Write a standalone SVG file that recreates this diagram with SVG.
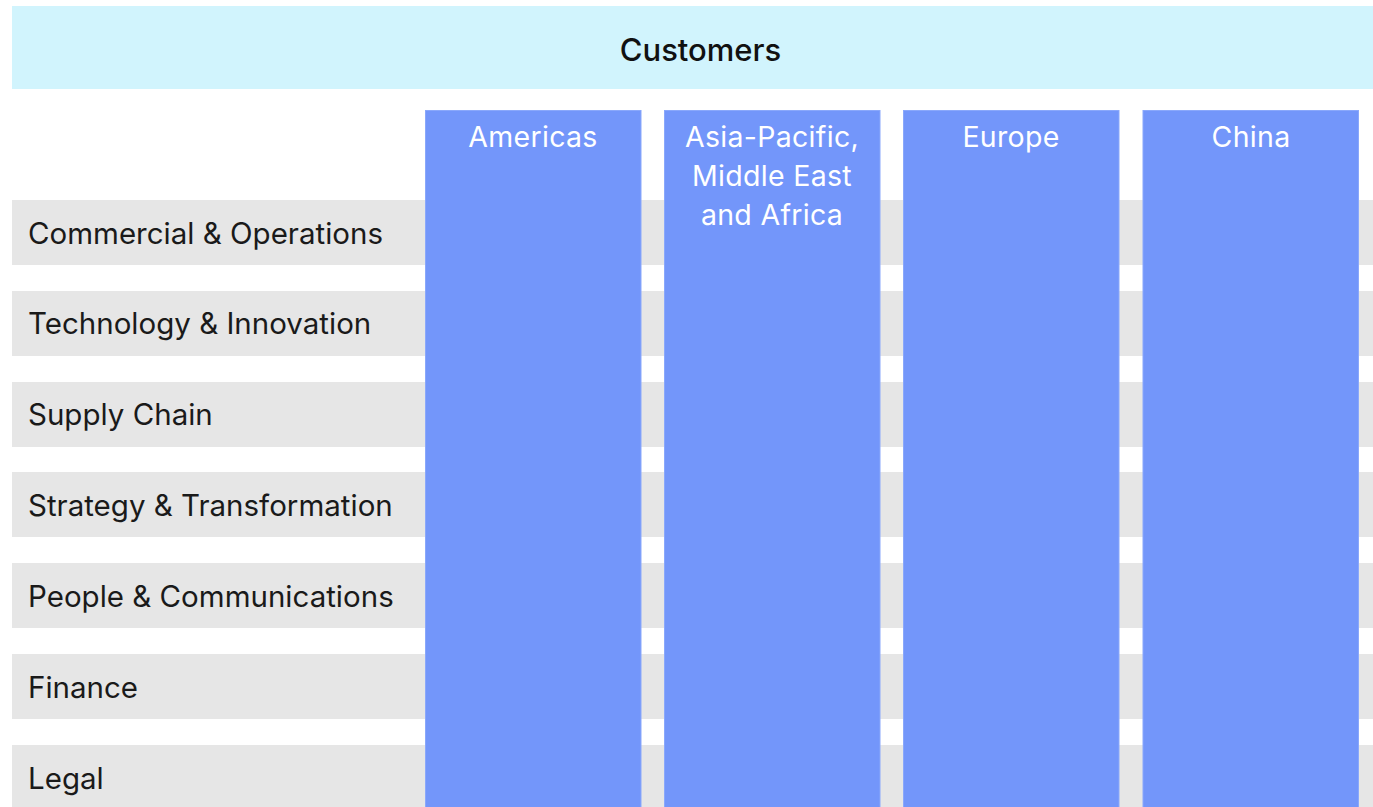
<svg xmlns="http://www.w3.org/2000/svg" width="1373" height="807" viewBox="0 0 1373 807">
<style>
.row{fill:#e6e6e6}
.col{fill:#7396fa;stroke:#8aa8fb;stroke-width:1}
.lbl{font-family:Inter,"Liberation Sans",sans-serif;font-size:29.5px;fill:#1a1a1a}
.ttl{font-family:Inter,"Liberation Sans",sans-serif;font-size:31px;font-weight:500;fill:#111111;text-anchor:middle}
.clbl{font-family:Inter,"Liberation Sans",sans-serif;font-size:28.5px;letter-spacing:0.3px;fill:#ffffff;text-anchor:middle}
</style>
<rect width="1373" height="807" fill="#ffffff"/>
<g id="header">
<rect x="12" y="6" width="1361" height="83" fill="#d1f4fd"/>
<text x="700.5" y="60.5" class="ttl">Customers</text>
</g>
<g id="row-commercial"><rect class="row" x="12" y="200" width="1361" height="65"/><text class="lbl" x="28" y="243.5">Commercial &amp; Operations</text></g>
<g id="row-technology"><rect class="row" x="12" y="291" width="1361" height="65"/><text class="lbl" x="28" y="334.3">Technology &amp; Innovation</text></g>
<g id="row-supply"><rect class="row" x="12" y="382" width="1361" height="65"/><text class="lbl" x="28" y="425">Supply Chain</text></g>
<g id="row-strategy"><rect class="row" x="12" y="472" width="1361" height="65"/><text class="lbl" x="28" y="516">Strategy &amp; Transformation</text></g>
<g id="row-people"><rect class="row" x="12" y="563" width="1361" height="65"/><text class="lbl" x="28" y="607">People &amp; Communications</text></g>
<g id="row-finance"><rect class="row" x="12" y="654" width="1361" height="65"/><text class="lbl" x="28" y="698">Finance</text></g>
<g id="row-legal"><rect class="row" x="12" y="745" width="1361" height="70"/><text class="lbl" x="28" y="788.5">Legal</text></g>
<g id="col-americas"><rect class="col" x="425.5" y="110.5" width="215.5" height="710"/><text class="clbl" x="533" y="147">Americas</text></g>
<g id="col-apmea"><rect class="col" x="664.5" y="110.5" width="215.5" height="710"/><text class="clbl" x="772" y="147">Asia-Pacific,</text><text class="clbl" x="772" y="186">Middle East</text><text class="clbl" x="772" y="225">and Africa</text></g>
<g id="col-europe"><rect class="col" x="903.5" y="110.5" width="215.5" height="710"/><text class="clbl" x="1011" y="147">Europe</text></g>
<g id="col-china"><rect class="col" x="1143" y="110.5" width="215.5" height="710"/><text class="clbl" x="1251" y="147">China</text></g>
<g id="connectors"/>
</svg>
